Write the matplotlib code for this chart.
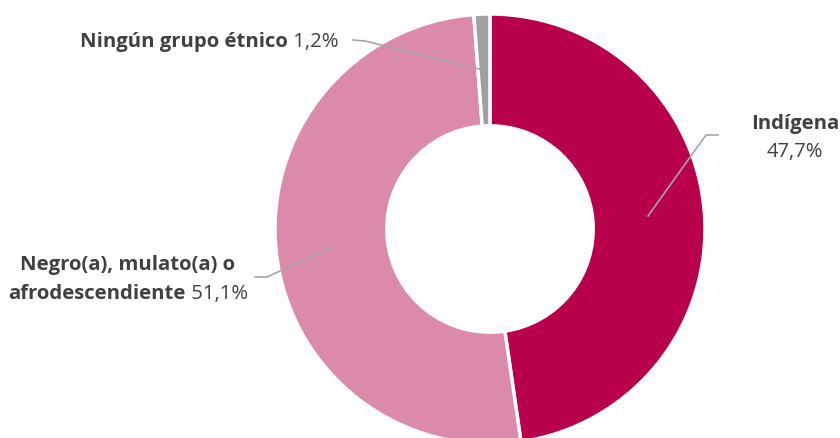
import matplotlib.pyplot as plt

# Porcentaje por autorreconocimiento étnico
categorias = ['Indígena', 'Negro(a), mulato(a) o afrodescendiente', 'Ningún grupo étnico']
valores = [47.7, 51.1, 1.2]
colores = ['#B8004B', '#DB8AAB', '#A0A0A0']

plt.rcParams['font.family'] = ['Open Sans', 'DejaVu Sans']
TEXTO = '#404040'
LINEA = '#A6A6A6'
FS = 14.6

fig = plt.figure(figsize=(8.4, 4.39), dpi=100)
ax = fig.add_axes([0, 0, 1, 1])

# eje y invertido (coordenadas de píxel): -90 apunta hacia arriba y el giro queda horario
cx, cy, r = 490, 230, 215
wedges, _ = ax.pie(valores, colors=colores, startangle=-90, counterclock=True,
                   radius=r, center=(cx, cy), frame=True,
                   wedgeprops=dict(width=r * 0.52, edgecolor='white', linewidth=2.5))
ax.set_xlim(0, 840)
ax.set_ylim(439, 0)
ax.set_aspect('equal')
ax.axis('off')

fig.canvas.draw()
renderer = fig.canvas.get_renderer()


def pct(v):
    return f'{v:.1f}%'.replace('.', ',')


def linea_mixta(x, y, negrita, normal, ha='left'):
    # texto en negrita seguido del porcentaje en peso normal
    t1 = ax.text(0, y, negrita, fontsize=FS, fontweight='bold', color=TEXTO, va='center')
    t2 = ax.text(0, y, ' ' + normal if normal else '', fontsize=FS, color=TEXTO, va='center')
    w1 = t1.get_window_extent(renderer).width
    w2 = t2.get_window_extent(renderer).width if normal else 0
    total = w1 + w2
    x0 = x - total / 2 if ha == 'center' else (x - total if ha == 'right' else x)
    t1.set_x(x0)
    t2.set_x(x0 + w1)


# Ningún grupo étnico
linea_mixta(80, 42, categorias[2], pct(valores[2]))
ax.plot([353, 365, 483], [41, 42, 71], color=LINEA, lw=1.2)

# Indígena
ax.text(795, 124, categorias[0], fontsize=FS, fontweight='bold', color=TEXTO,
        ha='center', va='center')
ax.text(795, 152, pct(valores[0]), fontsize=FS, color=TEXTO, ha='center', va='center')
ax.plot([648, 706, 718], [217, 136, 136], color=LINEA, lw=1.2)

# Negro(a), mulato(a) o afrodescendiente
linea_mixta(128, 265, 'Negro(a), mulato(a) o', '', ha='center')
linea_mixta(128, 294, 'afrodescendiente', pct(valores[1]), ha='center')
ax.plot([332, 267, 255], [248, 278, 278], color=LINEA, lw=1.2)

fig.savefig('out.png', dpi=100)
